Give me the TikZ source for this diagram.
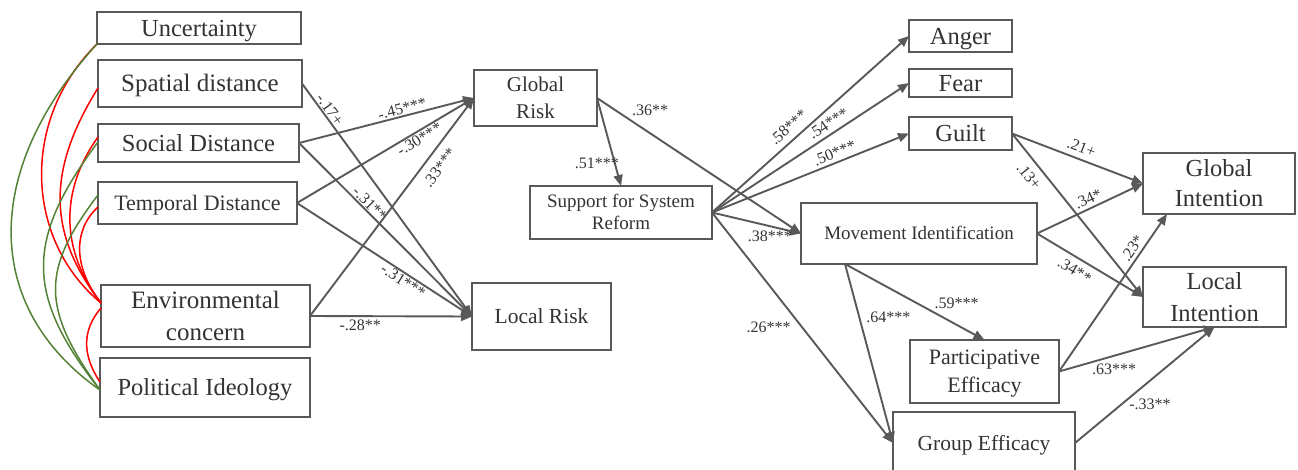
\documentclass[tikz,border=0pt]{standalone}
\usepackage{fontspec}
\setmainfont{Liberation Serif}
\usetikzlibrary{arrows.meta}
\definecolor{boxgray}{HTML}{595959}
\definecolor{txtgray}{HTML}{333333}
\definecolor{corred}{HTML}{FF0000}
\definecolor{corgreen}{HTML}{548235}
% line-box strut, so that text sits centred like a one-line text frame
\newcommand\boxstrut{\rule[-0.216em]{0pt}{1.107em}}

\begin{document}
\begin{tikzpicture}[x=1pt,y=-1pt,
  var/.style={draw=boxgray, line width=2.2pt, fill=white, text=txtgray,
    inner sep=0pt, outer sep=0pt, align=center},
  fs/.style 2 args={font=\fontsize{#1}{#2}\selectfont},
  link/.style={draw=boxgray, line width=1.9pt,
    -{Triangle[length=11pt,width=9pt]}},
  coef/.style={font=\fontsize{16}{18}\selectfont, text=txtgray, inner sep=1pt},
  posr/.style={draw=corred, line width=1.5pt},
  negr/.style={draw=corgreen, line width=1.5pt}]

\clip (0,0) rectangle (1298,469);

% ---- predictors ----
\node[var, fs={24.5}{30}, minimum width=204pt, minimum height=32pt] (unc) at (199,28) {\boxstrut Uncertainty};
\node[var, fs={25}{30}, minimum width=204pt, minimum height=47pt] (spa) at (200,83.5) {\boxstrut Spatial distance};
\node[var, fs={24.5}{30}, minimum width=201pt, minimum height=38pt] (soc) at (198.5,143) {\boxstrut Social Distance};
\node[var, fs={22}{28}, minimum width=199pt, minimum height=42pt] (tem) at (197.5,203) {\boxstrut Temporal Distance};
\node[var, fs={25}{32}, minimum width=209pt, minimum height=62pt] (env) at (205.5,316) {\boxstrut Environmental\\concern\boxstrut};
\node[var, fs={24.5}{30}, minimum width=210pt, minimum height=59pt] (pol) at (205,387.5) {\boxstrut Political Ideology};

% ---- risk perception ----
\node[var, fs={21}{27}, minimum width=123pt, minimum height=56pt] (glr) at (535.5,98) {\boxstrut Global\\Risk\boxstrut};
\node[var, fs={19}{22}, minimum width=182pt, minimum height=53pt] (ssr) at (621,212.5) {\boxstrut Support for System\\Reform\boxstrut};
\node[var, fs={21.5}{27}, minimum width=139pt, minimum height=67pt] (lor) at (541.5,316.5) {\boxstrut Local Risk};

% ---- emotions, identification, efficacy ----
\node[var, fs={24.5}{30}, minimum width=103pt, minimum height=32pt] (ang) at (960.5,36) {\boxstrut Anger};
\node[var, fs={24.5}{30}, minimum width=103pt, minimum height=28pt] (fea) at (960.5,83) {\boxstrut Fear};
\node[var, fs={24.5}{30}, minimum width=103pt, minimum height=33pt] (gui) at (960.5,133.5) {\boxstrut Guilt};
\node[var, fs={19}{24}, minimum width=236pt, minimum height=61pt] (mov) at (919,233.5) {\boxstrut Movement Identification};
\node[var, fs={22}{28}, minimum width=149pt, minimum height=63pt] (par) at (984.5,371.5) {\boxstrut Participative\\Efficacy\boxstrut};
\node[var, fs={21.5}{27}, minimum width=182pt, minimum height=62pt] (gre) at (984,443) {\boxstrut Group Efficacy};

% ---- intentions ----
\node[var, fs={24.5}{30}, minimum width=152pt, minimum height=61pt] (gli) at (1219,183.5) {\boxstrut Global\\Intention\boxstrut};
\node[var, fs={24.5}{32}, minimum width=143pt, minimum height=60pt] (lin) at (1214.5,297) {\boxstrut Local\\Intention\boxstrut};

% ---- connection points ----
\coordinate (envR) at ([yshift=13pt]env.west);
\coordinate (envL) at ([yshift=8pt]env.west);
\coordinate (polR) at ([yshift=5.5pt]pol.west);
\coordinate (polG) at ([yshift=-2.5pt]pol.west);
\coordinate (spaR) at ([yshift=-4.5pt]spa.west);
\coordinate (socR) at ([yshift=6pt]soc.west);
\coordinate (socG) at ([yshift=1pt]soc.west);
\coordinate (temG) at ([yshift=8pt]tem.west);
\coordinate (temR) at ([yshift=-4pt]tem.west);
\coordinate (movS) at ([xshift=44pt]mov.south west);
\coordinate (gliIn) at ([xshift=24pt]gli.south west);

% ---- correlations among predictors ----
\draw[posr] (unc.south west) .. controls (20,120) and (25,240) .. (envR);
\draw[posr] (spaR) .. controls (47,170) and (47,233) .. (envR);
\draw[posr] (socR) .. controls (60,190) and (60,250) .. (envR);
\draw[posr] (temR) .. controls (73,230) and (73,267) .. (envR);
\draw[posr] (envL) .. controls (82,330) and (82,355) .. (polR);
\draw[negr] (unc.south west) .. controls (-18,170) and (-18,307) .. (polG);
\draw[negr] (socG) .. controls (25,240) and (25,295) .. (polG);
\draw[negr] (temG) .. controls (41,270) and (41,308) .. (polG);

% ---- paths to risk perception ----
\draw[link] (spa.east) -- node[coef, sloped, above, pos=0.13] {-.17+} (lor.west);
\draw[link] (soc.east) -- node[coef, sloped, above, pos=0.6] {-.45***} (glr.west);
\draw[link] (soc.east) -- node[coef, sloped, above, pos=0.38] {-.31**} (lor.west);
\draw[link] (tem.east) -- node[coef, sloped, below, pos=0.67] {-.30***} (glr.west);
\draw[link] (tem.east) -- node[coef, sloped, below, pos=0.63] {-.31***} (lor.west);
\draw[link] (env.east) -- node[coef, sloped, below=7pt, pos=0.72] {.33***} (glr.west);
\draw[link] (env.east) -- node[coef, below=2pt, pos=0.31] {-.28**} (lor.west);

% ---- global risk and system reform ----
\draw[link] (glr.east) -- node[coef, pos=0.74, xshift=-18pt] {.51***} (ssr.north);
\draw[link] (glr.east) -- node[coef, pos=0.26, yshift=23pt] {.36**} (mov.west);
\draw[link] (ssr.east) -- node[coef, sloped, above=5pt, pos=0.43] {.58***} (ang.west);
\draw[link] (ssr.east) -- node[coef, sloped, above=3pt, pos=0.62] {.54***} (fea.west);
\draw[link] (ssr.east) -- node[coef, sloped, above=2pt, pos=0.64] {.50***} (gui.west);
\draw[link] (ssr.east) -- node[coef, below=3pt, pos=0.65] {.38***} (mov.west);
\draw[link] (ssr.east) -- node[coef, left=10pt, pos=0.5] {.26***} (gre.west);

% ---- identification to efficacy ----
\draw[link] (movS) -- node[coef, pos=0.8, yshift=21pt] {.59***} (par.north);
\draw[link] (movS) -- node[coef, right=5pt, pos=0.3] {.64***} (gre.west);

% ---- paths to intentions ----
\draw[link] (gui.east) -- node[coef, sloped, above=4pt, pos=0.5] {.21+} (gli.west);
\draw[link] (gui.east) -- node[coef, sloped, below=6pt, pos=0.21] {.13+} (lin.west);
\draw[link] (mov.east) -- node[coef, sloped, above=2pt, pos=0.52] {.34*} (gli.west);
\draw[link] (mov.east) -- node[coef, sloped, below=5pt, pos=0.415] {.34**} (lin.west);
\draw[link] (par.east) -- node[coef, sloped, above=2pt, pos=0.75] {.23*} (gliIn);
\draw[link] (par.east) -- node[coef, below=6pt, pos=0.354] {.63***} (lin.south);
\draw[link] (gre.east) -- node[coef, below=16pt, pos=0.538] {-.33**} (lin.south);

\end{tikzpicture}
\end{document}
